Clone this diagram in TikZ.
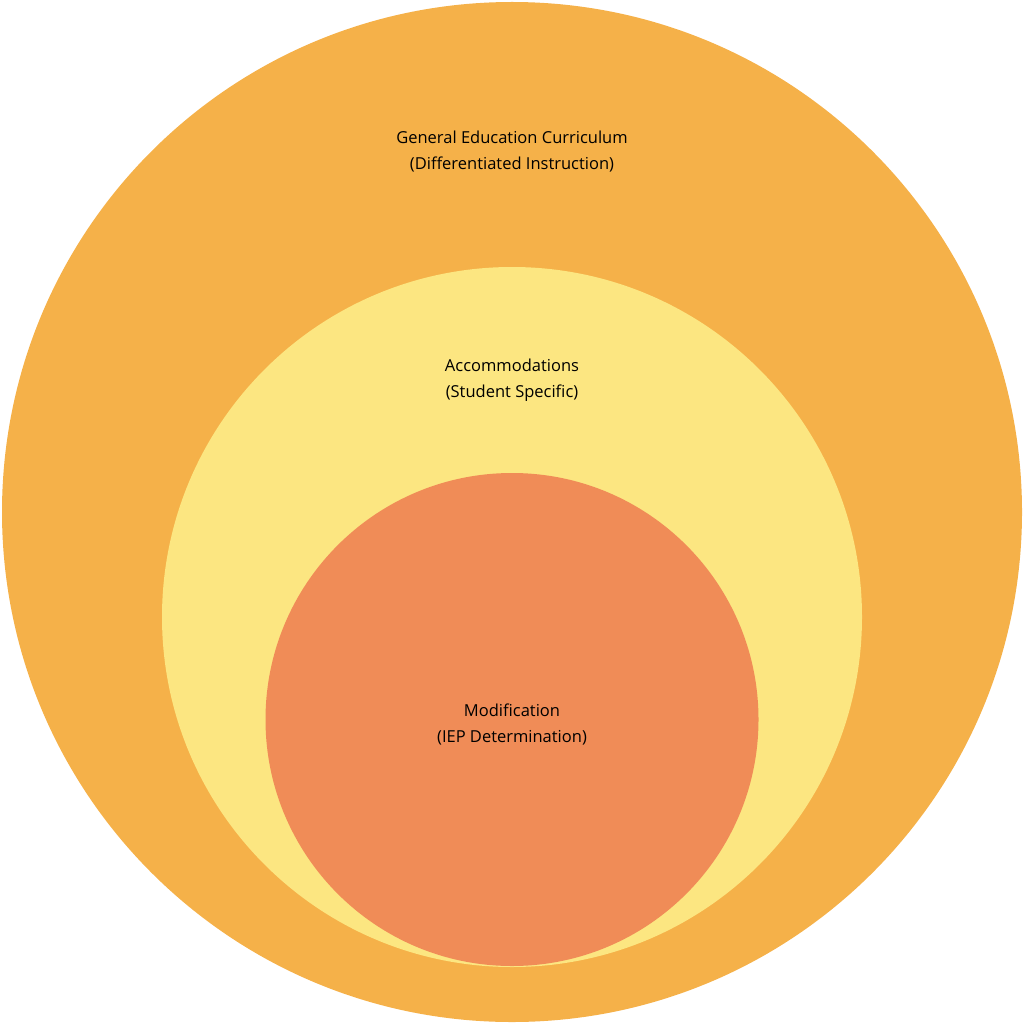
\documentclass[tikz,border=0pt]{standalone}
\usepackage{fontspec}
\setmainfont{Open Sans}
\definecolor{outerorange}{HTML}{F5B149}
\definecolor{midyellow}{HTML}{FCE681}
\definecolor{innersalmon}{HTML}{F08C57}
\tikzset{label/.style={align=center, font=\fontsize{16.5}{26}\selectfont, text=black}}
\begin{document}
\begin{tikzpicture}[x=1pt, y=-1pt]
	\useasboundingbox (0, 0) rectangle (1024, 1024);
	% Kreise
	\node [circle, fill=outerorange, minimum size=1020pt, inner sep=0pt] (general) at (512, 512) {};
	\node [circle, fill=midyellow, minimum size=700pt, inner sep=0pt] (accom) at (512, 617) {};
	\node [circle, fill=innersalmon, minimum size=493pt, inner sep=0pt] (modif) at (512, 719.5) {};
	% Beschriftungen
	\node [label] (generaltext) at (512, 152) {General Education Curriculum\\(Differentiated Instruction)};
	\node [label] (accomtext) at (512, 380) {Accommodations\\(Student Specific)};
	\node [label] (modiftext) at (512, 724) {Modification\\(IEP Determination)};
\end{tikzpicture}
\end{document}
